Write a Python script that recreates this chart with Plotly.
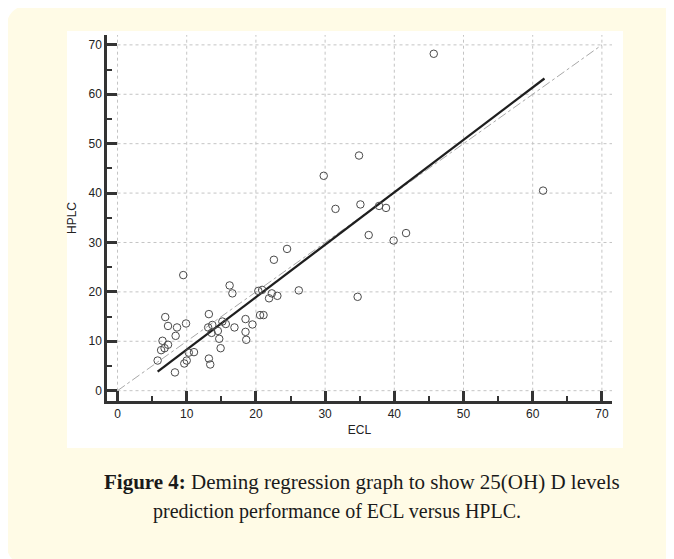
import plotly.graph_objects as go

# ---- data ----
ecl = [5.8, 6.3, 6.5, 7.3, 6.8, 6.9, 7.3, 8.6, 8.4, 9.9, 9.5, 8.3, 9.65, 10.0, 10.3, 11.05,
       13.2, 13.1, 13.7, 13.6, 13.2, 13.4, 14.5, 14.7, 14.9, 15.15, 15.65, 16.2, 16.6, 16.9,
       18.5, 18.5, 18.6, 19.5, 20.35, 20.9, 20.6, 21.1, 22.3, 21.9, 23.1, 22.6, 24.5, 26.2,
       34.7, 29.8, 31.5, 35.1, 34.9, 37.8, 38.8, 36.3, 39.9, 41.7, 45.7, 61.5]
hplc = [6.1, 8.2, 10.1, 9.3, 8.6, 14.9, 13.1, 12.8, 11.1, 13.6, 23.4, 3.7, 5.5, 6.1, 7.7, 7.8,
        15.5, 12.8, 13.3, 11.7, 6.5, 5.3, 12.1, 10.5, 8.6, 14.0, 13.5, 21.3, 19.7, 12.8,
        14.5, 11.9, 10.3, 13.4, 20.2, 20.4, 15.3, 15.3, 19.7, 18.7, 19.2, 26.5, 28.7, 20.3,
        19.0, 43.5, 36.8, 37.7, 47.6, 37.4, 37.0, 31.5, 30.4, 31.9, 68.2, 40.5]
reg_x = [5.8, 61.7]
reg_y = [3.85, 63.2]
identity = [0, 70]
major_ticks = [0, 10, 20, 30, 40, 50, 60, 70]
minor_ticks = [5, 15, 25, 35, 45, 55, 65]

# ---- layout geometry (reference-pixel coordinates) ----
OFF = 8                      # page body margin in the browser
W_REF, H_REF = 674, 559
L, R, T, B = 107, 612, 35, 401
XR = [-1.52, 71.46]
YR = [-2.09, 72.0]


def px(x):
    return (x - L) / (R - L)


def py(y):
    return (B - y) / (B - T)


fig = go.Figure()
fig.add_trace(go.Scatter(x=identity, y=identity, mode="lines",
                         line=dict(color="#a8a8a8", width=1, dash="dashdot"),
                         hoverinfo="skip", showlegend=False))
fig.add_trace(go.Scatter(x=reg_x, y=reg_y, mode="lines",
                         line=dict(color="#1e1e1e", width=2.3),
                         showlegend=False))
fig.add_trace(go.Scatter(x=ecl, y=hplc, mode="markers",
                         marker=dict(symbol="circle-open", size=7.5, color="#4a4a4a",
                                     line=dict(width=1)),
                         showlegend=False))

shapes = []
# cream rounded card
cx0, cy0, cx1, cy1, rr = 6, 5, 682, 566, 26
path = (f"M {px(cx0 + rr)},{py(cy0)} L {px(cx1 - rr)},{py(cy0)} "
        f"Q {px(cx1)},{py(cy0)} {px(cx1)},{py(cy0 + rr)} "
        f"L {px(cx1)},{py(cy1 - rr)} Q {px(cx1)},{py(cy1)} {px(cx1 - rr)},{py(cy1)} "
        f"L {px(cx0 + rr)},{py(cy1)} Q {px(cx0)},{py(cy1)} {px(cx0)},{py(cy1 - rr)} "
        f"L {px(cx0)},{py(cy0 + rr)} Q {px(cx0)},{py(cy0)} {px(cx0 + rr)},{py(cy0)} Z")
shapes.append(dict(type="path", xref="paper", yref="paper", path=path,
                   fillcolor="#fffbe6", line=dict(width=0), layer="below"))
# white chart panel
shapes.append(dict(type="rect", xref="paper", yref="paper",
                   x0=px(67), x1=px(623), y0=py(448), y1=py(31),
                   fillcolor="white", line=dict(width=0), layer="below"))
# dotted grid lines starting at 0
for v in major_ticks:
    shapes.append(dict(type="line", xref="x", yref="y", x0=v, x1=v, y0=0, y1=YR[1],
                       line=dict(color="#c4c4c4", width=1, dash="dot"), layer="below"))
    shapes.append(dict(type="line", xref="x", yref="y", x0=0, x1=XR[1], y0=v, y1=v,
                       line=dict(color="#c4c4c4", width=1, dash="dot"), layer="below"))

axis_common = dict(
    showgrid=False, zeroline=False, showline=True, linecolor="#333", linewidth=2.5,
    ticks="inside", ticklen=10, tickwidth=2.5, tickcolor="#333",
    tickvals=major_ticks,
    tickfont=dict(family="Liberation Sans, Arial", size=12, color="#222"),
    minor=dict(tickvals=minor_ticks, ticks="inside", ticklen=5, tickwidth=1.5,
               tickcolor="#333", showgrid=False),
)

fig.update_layout(
    width=W_REF - OFF, height=H_REF - OFF,
    margin=dict(l=L - OFF, r=W_REF - R, t=T - OFF, b=H_REF - B, pad=0),
    paper_bgcolor="white", plot_bgcolor="rgba(0,0,0,0)",
    xaxis=dict(range=XR, title=dict(text="ECL", standoff=6,
                                    font=dict(family="Liberation Sans, Arial", size=12, color="#222")),
               **axis_common),
    yaxis=dict(range=YR, title=dict(text="HPLC", standoff=10,
                                    font=dict(family="Liberation Sans, Arial", size=12, color="#222")),
               **axis_common),
    shapes=shapes,
    annotations=[
        dict(xref="paper", yref="paper", x=px(362), y=py(482), xanchor="center", yanchor="middle",
             text="<b>Figure 4:</b> Deming regression graph to show 25(OH) D levels",
             showarrow=False, font=dict(family="Liberation Serif", size=21, color="#1a1a1a")),
        dict(xref="paper", yref="paper", x=px(337), y=py(511), xanchor="center", yanchor="middle",
             text="prediction performance of ECL versus HPLC.",
             showarrow=False, font=dict(family="Liberation Serif", size=20, color="#1a1a1a")),
    ],
)

fig.write_html("out.html")
